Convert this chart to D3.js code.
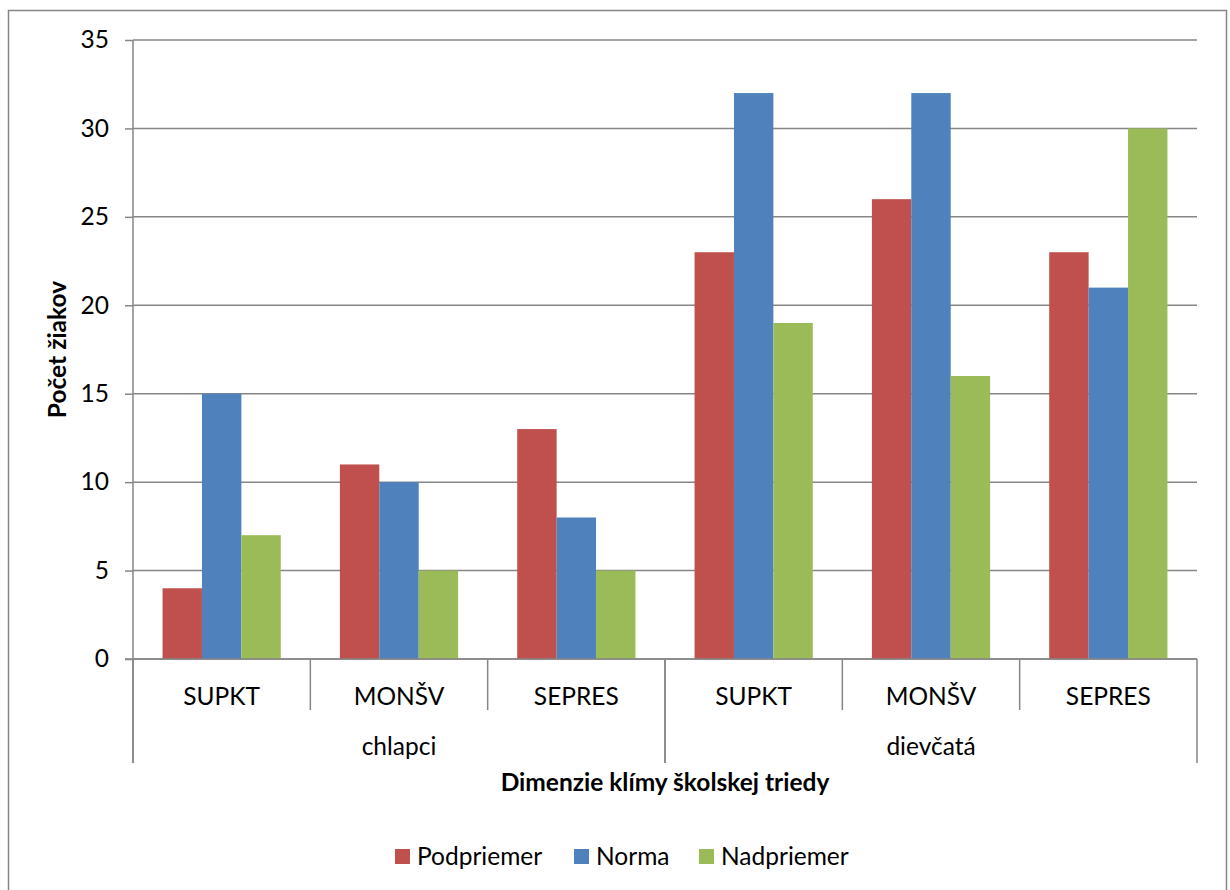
<!DOCTYPE html>
<html>
<head>
<meta charset="utf-8">
<script src="https://cdn.jsdelivr.net/npm/d3@7"></script>
<style>
  html, body { margin: 0; padding: 0; background: #fff; }
  svg { display: block; font-family: Lato, "Open Sans", sans-serif; }
</style>
</head>
<body>
<svg id="chart" width="1230" height="890"></svg>
<script>
// Chart data
const groups = ["chlapci", "dievčatá"];
const dimensions = ["SUPKT", "MONŠV", "SEPRES"];
const seriesNames = ["Podpriemer", "Norma", "Nadpriemer"];
const seriesColors = ["#C0504D", "#4F81BD", "#9BBB59"];
const podpriemer = [4, 11, 13, 23, 26, 23];
const norma = [15, 10, 8, 32, 32, 21];
const nadpriemer = [7, 5, 5, 19, 16, 30];
const yTicks = [0, 5, 10, 15, 20, 25, 30, 35];

const seriesValues = [podpriemer, norma, nadpriemer];
const categories = [];
groups.forEach(g => dimensions.forEach(d => categories.push({ group: g, dim: d, key: g + "|" + d })));

const svg = d3.select("#chart");
const W = 1230, H = 890;
const plot = { left: 133, right: 1197, top: 40, bottom: 659 };
const gridColor = "#868686";
const fs = 24.5;

// Outer chart frame (open at the bottom edge of the page)
svg.append("path")
  .attr("d", `M8.5,${H + 2} V10.5 H1226.5 V${H + 2}`)
  .attr("fill", "none").attr("stroke", gridColor).attr("stroke-width", 1.5);

const x0 = d3.scaleBand().domain(categories.map(c => c.key)).range([plot.left, plot.right]).padding(0);
const gapRatio = 1.5;
const barW = x0.bandwidth() / (seriesNames.length + gapRatio);
const x1 = d3.scaleBand().domain(seriesNames)
  .range([barW * gapRatio / 2, x0.bandwidth() - barW * gapRatio / 2]).padding(0);
const y = d3.scaleLinear().domain([0, 35]).range([plot.bottom, plot.top]);

// Horizontal gridlines and value axis
const yAxis = d3.axisLeft(y).tickValues(yTicks).tickSize(8).tickPadding(16);
const yG = svg.append("g").attr("transform", `translate(${plot.left},0)`).call(yAxis);
yG.attr("font-family", null).attr("font-size", null);
yG.select(".domain").remove();
yG.selectAll(".tick line").attr("stroke", gridColor).attr("stroke-width", 1.5);
yG.selectAll(".tick text").attr("font-size", fs).attr("fill", "#000");

svg.append("g").selectAll("line").data(yTicks).join("line")
  .attr("x1", plot.left).attr("x2", plot.right)
  .attr("y1", d => y(d)).attr("y2", d => y(d))
  .attr("stroke", gridColor).attr("stroke-width", 1.5);

// Bars
const barsG = svg.append("g");
categories.forEach((c, ci) => {
  seriesNames.forEach((s, si) => {
    const v = seriesValues[si][ci];
    barsG.append("rect")
      .attr("x", x0(c.key) + x1(s))
      .attr("y", y(v))
      .attr("width", x1.bandwidth())
      .attr("height", y(0) - y(v))
      .attr("fill", seriesColors[si]);
  });
});

// Value axis line
svg.append("line")
  .attr("x1", plot.left).attr("x2", plot.left)
  .attr("y1", plot.top).attr("y2", 763)
  .attr("stroke", gridColor).attr("stroke-width", 1.5);

// Category axis line
svg.append("line")
  .attr("x1", plot.left - 8).attr("x2", plot.right)
  .attr("y1", y(0)).attr("y2", y(0))
  .attr("stroke", gridColor).attr("stroke-width", 1.5);

// Inner category separators and labels
const axG = svg.append("g");
categories.forEach((c, ci) => {
  const xs = x0(c.key);
  if (ci > 0 && ci % dimensions.length !== 0) {
    axG.append("line").attr("x1", xs).attr("x2", xs)
      .attr("y1", y(0)).attr("y2", 710)
      .attr("stroke", gridColor).attr("stroke-width", 1.5);
  }
  axG.append("text")
    .attr("x", xs + x0.bandwidth() / 2).attr("y", 705)
    .attr("text-anchor", "middle").attr("font-size", fs).attr("fill", "#000")
    .text(c.dim);
});

// Outer group separators and labels
groups.forEach((g, gi) => {
  const first = categories.find(c => c.group === g);
  const last = categories.filter(c => c.group === g).pop();
  const xa = x0(first.key), xb = x0(last.key) + x0.bandwidth();
  [xa, xb].forEach(xv => {
    axG.append("line").attr("x1", xv).attr("x2", xv)
      .attr("y1", y(0)).attr("y2", 763)
      .attr("stroke", gridColor).attr("stroke-width", 1.5);
  });
  axG.append("text")
    .attr("x", (xa + xb) / 2).attr("y", 755)
    .attr("text-anchor", "middle").attr("font-size", fs).attr("fill", "#000")
    .text(g);
});

// Axis titles
svg.append("text")
  .attr("x", 665).attr("y", 791)
  .attr("text-anchor", "middle").attr("font-size", fs).attr("font-weight", "bold")
  .text("Dimenzie klímy školskej triedy");

svg.append("text")
  .attr("transform", `translate(66,${(plot.top + plot.bottom) / 2}) rotate(-90)`)
  .attr("text-anchor", "middle").attr("font-size", fs).attr("font-weight", "bold")
  .text("Počet žiakov");

// Legend
const legendX = [395, 574, 699];
const legend = svg.append("g");
seriesNames.forEach((s, i) => {
  legend.append("rect").attr("x", legendX[i]).attr("y", 849)
    .attr("width", 15).attr("height", 15).attr("fill", seriesColors[i]);
  legend.append("text").attr("x", legendX[i] + 22).attr("y", 865)
    .attr("font-size", fs).attr("fill", "#000").text(s);
});
</script>
</body>
</html>
